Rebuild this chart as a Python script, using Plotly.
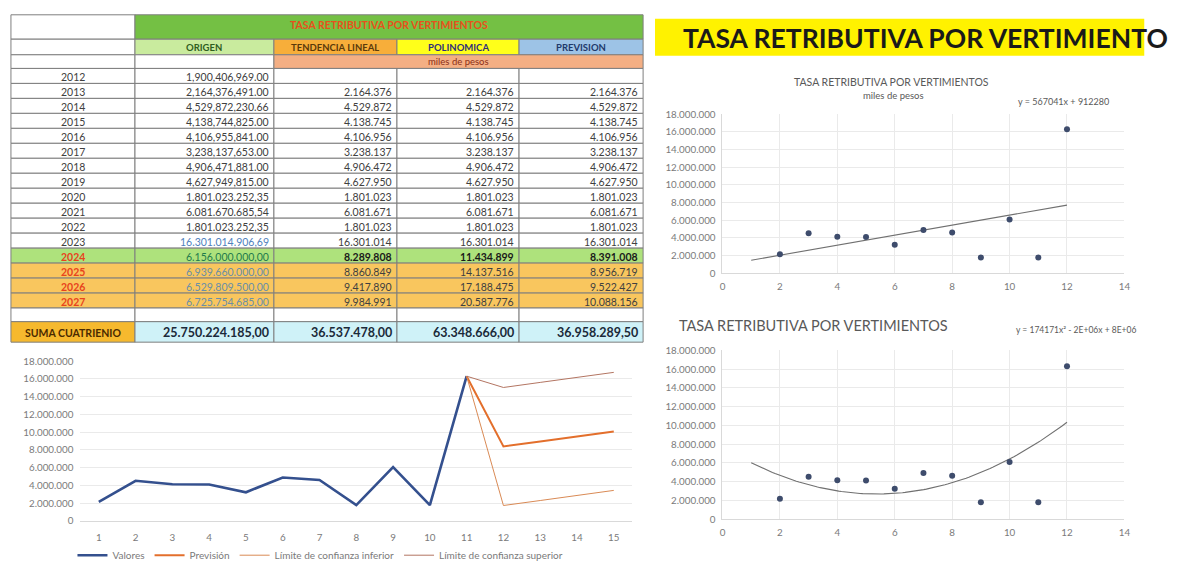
import numpy as np
import plotly.graph_objects as go

# ---------------- data ----------------
YEARS = [2012, 2013, 2014, 2015, 2016, 2017, 2018, 2019, 2020, 2021, 2022, 2023,
         2024, 2025, 2026, 2027]
ORIGEN = [1900406969.00, 2164376491.00, 4529872230.66, 4138744825.00, 4106955841.00,
          3238137653.00, 4906471881.00, 4627949815.00, 1801023252.35, 6081670685.54,
          1801023252.35, 16301014906.69, 6156000000.00, 6939660000.00, 6529809500.00,
          6725754685.00]
TENDENCIA = [None, 2164376, 4529872, 4138745, 4106956, 3238137, 4906472, 4627950,
             1801023, 6081671, 1801023, 16301014, 8289808, 8860849, 9417890, 9984991]
POLINOMICA = [None, 2164376, 4529872, 4138745, 4106956, 3238137, 4906472, 4627950,
              1801023, 6081671, 1801023, 16301014, 11434899, 14137516, 17188475, 20587776]
PREVISION = [None, 2164376, 4529872, 4138745, 4106956, 3238137, 4906472, 4627950,
             1801023, 6081671, 1801023, 16301014, 8391008, 8956719, 9522427, 10088156]
SUMA = [25750224185.00, 36537478.00, 63348666.00, 36958289.50]

COL_HEADERS = ["ORIGEN", "TENDENCIA LINEAL", "POLINOMICA", "PREVISION"]
TABLE_TITLE = "TASA RETRIBUTIVA POR VERTIMIENTOS"
UNITS = "miles de pesos"
SUMA_LABEL = "SUMA CUATRIENIO"

# observed series (thousands of pesos), 2013-2023
VALORES = [v / 1000 for v in ORIGEN[1:12]]
VALORES_X = list(range(1, len(VALORES) + 1))
# forecast and its confidence limits, periods 11-15
PREV_X = [11, 12, 13, 14, 15]
PREV_Y = PREVISION[11:16]
LIM_INF = [16301014, 1750000, 2310000, 2880000, 3450000]
LIM_SUP = [16301014, 15030000, 15600000, 16170000, 16730000]

# scatter: period number (2012 = 1)
SCAT_X = [y - 2011 for y in YEARS[1:12]]
SCAT_Y = VALORES

LEGEND_NAMES = ["Valores", "Previsión", "Límite de confianza inferior",
                "Límite de confianza superior"]
BIG_TITLE = "TASA RETRIBUTIVA POR VERTIMIENTO"

# ---------------- helpers ----------------
W, H = 1184, 570
FONT = "Lato"


def px(x):
    return x / W


def py(y):
    return 1 - y / H


def fmt_us(v):
    return f"{v:,.2f}"


def fmt_eu(v):
    return f"{v:,.2f}".replace(",", "X").replace(".", ",").replace("X", ".")


def fmt_k(v):
    return f"{v:,.0f}".replace(",", ".")


shapes, annotations = [], []


def rect(x0, x1, y0, y1, fill, line="#7f7f7f"):
    shapes.append(dict(type="rect", xref="paper", yref="paper", layer="below",
                       x0=px(x0), x1=px(x1), y0=py(y1), y1=py(y0),
                       fillcolor=fill, line=dict(color=line, width=1)))


def text(x, y, s, size=10, color="#404040", anchor="center", bold=False, fam=FONT):
    annotations.append(dict(xref="paper", yref="paper", x=px(x), y=py(y),
                            text=f"<b>{s}</b>" if bold else s, showarrow=False,
                            xanchor=anchor, yanchor="middle",
                            font=dict(family=fam, size=size, color=color)))


# ---------------- table ----------------
CX = [8, 133, 273, 397, 520, 645]
HEAD_Y = [8, 33, 49, 63]
ROW_H = 15.35

GREEN_T = "#74C044"
HEAD_FILLS = ["#C9EB9E", "#F7AE3A", "#FFFF1A", "#9DC3E6"]
HEAD_COLORS = ["#2F5E1E", "#5A3A0A", "#2E2E7A", "#1F3A6B"]
SALMON = "#F4AF84"
ROW_GREEN = "#AEE27C"
ROW_AMBER = "#F9C65E"
CYAN = "#CFF2F8"
GOLD = "#F6B92E"
CELL_FONT = 10.5

# header row 1
rect(CX[0], CX[1], HEAD_Y[0], HEAD_Y[1], "white")
rect(CX[1], CX[5], HEAD_Y[0], HEAD_Y[1], GREEN_T)
text((CX[1] + CX[5]) / 2, (HEAD_Y[0] + HEAD_Y[1]) / 2 - 2, TABLE_TITLE, 10.5,
     "#E8501C", bold=True)
# header row 2
rect(CX[0], CX[1], HEAD_Y[1], HEAD_Y[2], "white")
for j, name in enumerate(COL_HEADERS):
    rect(CX[j + 1], CX[j + 2], HEAD_Y[1], HEAD_Y[2], HEAD_FILLS[j])
    text((CX[j + 1] + CX[j + 2]) / 2, (HEAD_Y[1] + HEAD_Y[2]) / 2 + 1, name, 9.5,
         HEAD_COLORS[j], bold=True)
# header row 3
rect(CX[0], CX[1], HEAD_Y[2], HEAD_Y[3], "white")
rect(CX[1], CX[2], HEAD_Y[2], HEAD_Y[3], "white")
rect(CX[2], CX[5], HEAD_Y[2], HEAD_Y[3], SALMON)
text((CX[2] + CX[5]) / 2, (HEAD_Y[2] + HEAD_Y[3]) / 2, UNITS, 9.5, "#8B2E16")

# body rows
for i, yr in enumerate(YEARS):
    y0 = HEAD_Y[3] + i * ROW_H
    y1 = y0 + ROW_H
    yc = (y0 + y1) / 2 + 1
    forecast = yr >= 2024
    fill = ROW_GREEN if yr == 2024 else (ROW_AMBER if forecast else "white")
    for j in range(5):
        rect(CX[j], CX[j + 1], y0, y1, fill)
    text((CX[0] + CX[1]) / 2, yc, str(yr), CELL_FONT,
         "#E8431C" if forecast else "#404040", bold=forecast)
    ov = ORIGEN[i]
    s = fmt_us(ov) if yr <= 2019 else fmt_eu(ov)
    oc = "#404040"
    if yr == 2023:
        oc = "#4F81BD"
    elif yr == 2024:
        oc = "#1E7B4C"
    elif forecast:
        oc = "#6A8FA8"
    text(CX[2] - 3, yc, s, CELL_FONT, oc, anchor="right")
    for j, col in enumerate([TENDENCIA, POLINOMICA, PREVISION]):
        v = col[i]
        if v is None:
            continue
        text(CX[j + 3] - 3, yc, fmt_k(v), CELL_FONT,
             "#1a1a1a" if yr == 2024 else "#404040", anchor="right", bold=(yr == 2024))

y_blank0 = HEAD_Y[3] + len(YEARS) * ROW_H
y_blank1 = y_blank0 + 14
for j in range(5):
    rect(CX[j], CX[j + 1], y_blank0, y_blank1, "white")
y_sum1 = y_blank1 + 21
rect(CX[0], CX[1], y_blank1, y_sum1, GOLD)
text((CX[0] + CX[1]) / 2, (y_blank1 + y_sum1) / 2 + 1, SUMA_LABEL, 10.5, "#4a2a00",
     bold=True)
for j, v in enumerate(SUMA):
    rect(CX[j + 1], CX[j + 2], y_blank1, y_sum1, CYAN)
    text(CX[j + 2] - 3, (y_blank1 + y_sum1) / 2 + 1, fmt_eu(v), 12.5, "#1b2a3a",
         anchor="right", bold=True)

# ---------------- big highlighted title ----------------
shapes.append(dict(type="rect", xref="paper", yref="paper", layer="below",
                   x0=px(657), x1=px(1150), y0=py(50), y1=py(12),
                   fillcolor="#FFF200", line=dict(width=0)))
text(683, 32, BIG_TITLE, 26.5, "#1a1a1a", anchor="left", bold=True)

# ---------------- charts ----------------
fig = go.Figure()

# forecast line chart
fig.add_trace(go.Scatter(x=VALORES_X, y=VALORES, mode="lines", name=LEGEND_NAMES[0],
                         line=dict(color="#34508E", width=2.6), xaxis="x", yaxis="y"))
fig.add_trace(go.Scatter(x=PREV_X, y=PREV_Y, mode="lines", name=LEGEND_NAMES[1],
                         line=dict(color="#E36F2C", width=2), xaxis="x", yaxis="y"))
fig.add_trace(go.Scatter(x=PREV_X, y=LIM_INF, mode="lines", name=LEGEND_NAMES[2],
                         line=dict(color="#D98A55", width=1), xaxis="x", yaxis="y"))
fig.add_trace(go.Scatter(x=PREV_X, y=LIM_SUP, mode="lines", name=LEGEND_NAMES[3],
                         line=dict(color="#B37562", width=1), xaxis="x", yaxis="y"))

# least-squares trend lines of the scatter series
lin = np.polyfit(SCAT_X, SCAT_Y, 1)
quad = np.polyfit(SCAT_X, SCAT_Y, 2)
tx = np.linspace(1, 12, 120)
MARK = dict(color="#3E4C6C", size=6)
fig.add_trace(go.Scatter(x=tx, y=np.polyval(lin, tx), mode="lines", showlegend=False,
                         line=dict(color="#707070", width=1.1), xaxis="x2", yaxis="y2"))
fig.add_trace(go.Scatter(x=SCAT_X, y=SCAT_Y, mode="markers", showlegend=False,
                         marker=MARK, xaxis="x2", yaxis="y2"))
fig.add_trace(go.Scatter(x=tx, y=np.polyval(quad, tx), mode="lines", showlegend=False,
                         line=dict(color="#707070", width=1.1), xaxis="x3", yaxis="y3"))
fig.add_trace(go.Scatter(x=SCAT_X, y=SCAT_Y, mode="markers", showlegend=False,
                         marker=MARK, xaxis="x3", yaxis="y3"))

lin_label = f"y = {lin[0]:.0f}x + {lin[1]:.0f}"
quad_label = (f"y = {quad[0]:.0f}x² {'-' if quad[1] < 0 else '+'} {abs(quad[1]):.0E}x "
              f"{'-' if quad[2] < 0 else '+'} {abs(quad[2]):.0E}")

GRAY_T = "#595959"
text(895, 77, TABLE_TITLE, 10.5, GRAY_T)
text(897, 91, UNITS, 9.5, GRAY_T)
text(1069, 97, lin_label, 9, GRAY_T)
text(817, 327, TABLE_TITLE, 14.5, GRAY_T)
text(1081, 331, quad_label, 8.5, GRAY_T)

tickfont = dict(family=FONT, size=9.8, color="#7a7a7a")
grid = "#EAEAEA"

fig.update_layout(
    width=W, height=H, margin=dict(l=0, r=0, t=0, b=0),
    paper_bgcolor="white", plot_bgcolor="rgba(0,0,0,0)",
    separators=",.",
    shapes=shapes, annotations=annotations,
    showlegend=True,
    legend=dict(orientation="h", x=px(70), y=py(562), xanchor="left", yanchor="middle",
                font=dict(family=FONT, size=10, color="#7a7a7a"),
                bgcolor="rgba(0,0,0,0)", itemwidth=30),
    xaxis=dict(domain=[px(78), px(634)], range=[0.5, 15.5], tickvals=list(range(1, 16)),
               showgrid=False, showline=True, linecolor="#D9D9D9", zeroline=False,
               tickfont=tickfont, ticks="", ticklabelstandoff=7, anchor="y"),
    yaxis=dict(domain=[py(527), py(363)], range=[0, 18e6], dtick=2e6, tickformat=",d",
               showgrid=True, gridcolor=grid, zeroline=False, showline=False,
               tickfont=tickfont, ticklabelstandoff=6, anchor="x"),
    xaxis2=dict(domain=[px(725), px(1130)], range=[0, 14], dtick=2, showgrid=True,
                gridcolor=grid, showline=True, linecolor="#D9D9D9", zeroline=False,
                tickfont=tickfont, ticklabelstandoff=4, anchor="y2"),
    yaxis2=dict(domain=[py(273), py(110)], range=[0, 18e6], dtick=2e6, tickformat=",d",
                showgrid=True, gridcolor=grid, showline=True, linecolor="#D9D9D9",
                zeroline=False, tickfont=tickfont, ticklabelstandoff=4, anchor="x2"),
    xaxis3=dict(domain=[px(725), px(1130)], range=[0, 14], dtick=2, showgrid=True,
                gridcolor=grid, showline=True, linecolor="#D9D9D9", zeroline=False,
                tickfont=tickfont, ticklabelstandoff=4, anchor="y3"),
    yaxis3=dict(domain=[py(525), py(352)], range=[0, 18e6], dtick=2e6, tickformat=",d",
                showgrid=True, gridcolor=grid, showline=True, linecolor="#D9D9D9",
                zeroline=False, tickfont=tickfont, ticklabelstandoff=4, anchor="x3"),
)

fig.write_html("out.html")
